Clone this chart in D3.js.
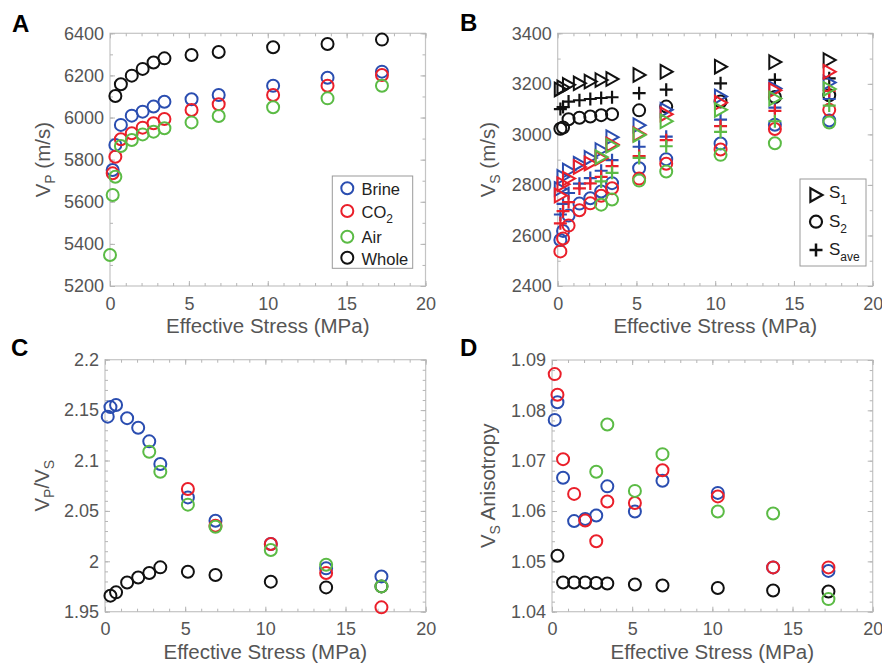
<!DOCTYPE html>
<html>
<head>
<meta charset="utf-8">
<script src="https://cdn.jsdelivr.net/npm/d3@7"></script>
<style>
  html, body { margin: 0; padding: 0; background: #fff; }
  svg { display: block; font-family: "Liberation Sans", Arial, Helvetica, sans-serif; }
</style>
</head>
<body>
<svg id="chart" width="882" height="669"></svg>
<script>
// ---- Effective stress (MPa) of each measurement step ----
const stressBrine = [0.17, 0.34, 0.69, 1.38, 2.07, 2.76, 3.45, 5.17, 6.89, 10.34, 13.79, 17.24];
const stressCO2 = [0.17, 0.34, 0.69, 1.38, 2.07, 2.76, 3.45, 5.17, 6.89, 10.34, 13.79, 17.24];
const stressAirVp = [0, 0.17, 0.34, 0.69, 1.38, 2.07, 2.76, 3.45, 5.17, 6.89, 10.34, 13.79, 17.24];
const stressAir = [2.76, 3.45, 5.17, 6.89, 10.34, 13.79, 17.24];
const stressCO2Ratio = [5.17, 6.89, 10.34, 13.79, 17.24];
const stressWhole = [0.34, 0.69, 1.38, 2.07, 2.76, 3.45, 5.17, 6.89, 10.34, 13.79, 17.24];
const stressWholeVs = [0.17, 0.34, 0.69, 1.38, 2.07, 2.76, 3.45, 5.17, 6.89, 10.34, 13.79, 17.24];

// ---- A: P-wave velocity (m/s) ----
const vpBrine = [5751, 5870, 5965, 6009, 6028, 6052, 6075, 6087, 6107, 6151, 6189, 6218];
const vpCO2 = [5735, 5814, 5897, 5925, 5952, 5973, 5993, 6036, 6063, 6107, 6151, 6202];
const vpAir = [5347, 5632, 5719, 5865, 5893, 5920, 5933, 5949, 5977, 6007, 6049, 6091, 6151];
const vpWhole = [6102, 6158, 6199, 6231, 6261, 6281, 6297, 6311, 6334, 6349, 6370];

// ---- B: S-wave velocities (m/s): fast S1, slow S2 and their average ----
const s1Brine = [2784, 2832, 2857, 2884, 2907, 2938, 2989, 3036, 3097, 3150, 3182, 3205];
const s2Brine = [2582, 2618, 2679, 2726, 2747, 2774, 2807, 2866, 2902, 2964, 3038, 3055];
const saveBrine = [2683, 2725, 2768, 2805, 2827, 2856, 2898, 2951, 2991, 3058, 3106, 3140];
const s1CO2 = [2758, 2803, 2825, 2871, 2885, 2906, 2960, 3001, 3080, 3125, 3175, 3248];
const s2CO2 = [2537, 2588, 2639, 2700, 2727, 2757, 2787, 2825, 2884, 2940, 3021, 3097];
const saveCO2 = [2648, 2696, 2732, 2786, 2806, 2832, 2874, 2914, 2977, 3033, 3093, 3172];
const s1Air = [2910, 2955, 2998, 3052, 3097, 3142, 3180];
const s2Air = [2722, 2742, 2817, 2853, 2919, 2965, 3047];
const saveAir = [2814, 2848, 2907, 2953, 3010, 3052, 3114];
const s1Whole = [3178, 3186, 3196, 3202, 3209, 3215, 3219, 3235, 3248, 3268, 3286, 3294];
const s2Whole = [3022, 3027, 3060, 3066, 3071, 3076, 3080, 3095, 3110, 3130, 3148, 3155];
const saveWhole = [3100, 3108, 3130, 3135, 3140, 3144, 3147, 3163, 3177, 3202, 3216, 3222];

// ---- C: Vp/Vs ratio ----
const ratioBrine = [2.1435, 2.153, 2.155, 2.142, 2.1325, 2.119, 2.0965, 2.0634, 2.0403, 2.0171, 1.993, 1.985];
const ratioCO2 = [2.0717, 2.0353, 2.0171, 1.9884, 1.9543];
const ratioAir = [2.1087, 2.0889, 2.0562, 2.0343, 2.0112, 1.9966, 1.9751];
const ratioWhole = [1.9659, 1.9692, 1.979, 1.984, 1.9884, 1.994, 1.9897, 1.9864, 1.9798, 1.9741, 1.9751];

// ---- D: shear-wave anisotropy (S1/S2) ----
const anisoBrine = [1.0781, 1.0816, 1.0666, 1.058, 1.0584, 1.0591, 1.0649, 1.0599, 1.066, 1.0636, 1.0488, 1.0481];
const anisoCO2 = [1.0872, 1.0831, 1.0703, 1.0634, 1.0581, 1.054, 1.0619, 1.0616, 1.0681, 1.0629, 1.0488, 1.0488];
const anisoAir = [1.0678, 1.0772, 1.064, 1.0713, 1.0599, 1.0595, 1.0425];
const anisoWhole = [1.0511, 1.0458, 1.0458, 1.0458, 1.0457, 1.0456, 1.0454, 1.0452, 1.0447, 1.0442, 1.044];

// ---- Axis ticks and legend labels ----
const xTicks = [0, 5, 10, 15, 20];
const vpTicks = [5200, 5400, 5600, 5800, 6000, 6200, 6400];
const vsTicks = [2400, 2600, 2800, 3000, 3200, 3400];
const ratioTicks = [1.95, 2, 2.05, 2.1, 2.15, 2.2];
const anisoTicks = [1.04, 1.05, 1.06, 1.07, 1.08, 1.09];
const fluidLabels = ["Brine", "CO2", "Air", "Whole"];
const waveLabels = ["S1", "S2", "Save"];

const COLORS = { brine: "#2a4db0", co2: "#ea1f2a", air: "#5bbb45", whole: "#111111" };
const svg = d3.select("#chart");

const SHAPES = {
  circle: sel => sel.append("circle").attr("r", 6),
  triangle: sel => sel.append("path").attr("d", "M-5.6,-6.8L6.5,0L-5.6,6.8Z"),
  plus: sel => sel.append("path").attr("d", "M-6.5,0H6.5M0,-6.5V6.5")
};

function makePanel(cfg) {
  const g = svg.append("g");
  const x = d3.scaleLinear().domain([0, 20]).range([cfg.left, cfg.right]);
  const y = d3.scaleLinear().domain(cfg.yDomain).range([cfg.bottom, cfg.top]);

  g.append("rect")
    .attr("x", cfg.left).attr("y", cfg.top)
    .attr("width", cfg.right - cfg.left).attr("height", cfg.bottom - cfg.top)
    .attr("fill", "#fff").attr("stroke", "#c4c4c4").attr("stroke-width", 1.2);

  const xMinor = d3.range(0, 20.001, 1);
  const yMinor = d3.range(cfg.yDomain[0], cfg.yDomain[1] + cfg.minorStep / 2, cfg.minorStep);

  const tickStyle = sel => {
    sel.select(".domain").remove();
    sel.selectAll("line").attr("stroke", "#b5b5b5").attr("stroke-width", 1);
    sel.selectAll("text").attr("fill", "#555").attr("font-size", 18)
      .attr("font-family", "\"Liberation Sans\", Arial, sans-serif");
  };

  // minor ticks on all four sides
  g.append("g").attr("transform", `translate(0,${cfg.bottom})`)
    .call(d3.axisBottom(x).tickValues(xMinor).tickSize(-3).tickFormat("")).call(tickStyle);
  g.append("g").attr("transform", `translate(0,${cfg.top})`)
    .call(d3.axisTop(x).tickValues(xMinor).tickSize(-3).tickFormat("")).call(tickStyle);
  g.append("g").attr("transform", `translate(${cfg.left},0)`)
    .call(d3.axisLeft(y).tickValues(yMinor).tickSize(-3).tickFormat("")).call(tickStyle);
  g.append("g").attr("transform", `translate(${cfg.right},0)`)
    .call(d3.axisRight(y).tickValues(yMinor).tickSize(-3).tickFormat("")).call(tickStyle);

  // major ticks with labels
  g.append("g").attr("transform", `translate(0,${cfg.bottom})`)
    .call(d3.axisBottom(x).tickValues(xTicks).tickSize(-5).tickPadding(11).tickFormat(d3.format("d")))
    .call(tickStyle);
  g.append("g").attr("transform", `translate(${cfg.left},0)`)
    .call(d3.axisLeft(y).tickValues(cfg.yTicks).tickSize(-5).tickPadding(6).tickFormat(cfg.fmt))
    .call(tickStyle);
  g.append("g").attr("transform", `translate(0,${cfg.top})`)
    .call(d3.axisTop(x).tickValues(xTicks).tickSize(-5).tickFormat("")).call(tickStyle);
  g.append("g").attr("transform", `translate(${cfg.right},0)`)
    .call(d3.axisRight(y).tickValues(cfg.yTicks).tickSize(-5).tickFormat("")).call(tickStyle);

  // x-axis title
  g.append("text")
    .attr("x", (cfg.left + cfg.right) / 2).attr("y", cfg.bottom + 47)
    .attr("text-anchor", "middle").attr("font-size", 20.5).attr("fill", "#555")
    .text("Effective Stress (MPa)");

  // y-axis title with subscripts
  const yt = g.append("text")
    .attr("transform", `translate(${cfg.yLabelX},${(cfg.top + cfg.bottom) / 2}) rotate(-90)`)
    .attr("text-anchor", "middle").attr("font-size", 20.5).attr("fill", "#555");
  cfg.yLabel.forEach(part => {
    const t = yt.append("tspan").text(part.t);
    if (part.sub) t.attr("font-size", 14).attr("dy", 5);
    if (part.up) t.attr("dy", -5);
  });

  // panel letter
  g.append("text").attr("x", cfg.letterX).attr("y", cfg.letterY)
    .attr("font-size", 24).attr("font-weight", "bold").attr("fill", "#000")
    .attr("font-family", "Arial, \"Liberation Sans\", sans-serif")
    .text(cfg.letter);

  const marks = g.append("g");
  function plot(xs, ys, color, shape) {
    const pts = marks.append("g");
    xs.forEach((s, i) => {
      const m = pts.append("g").attr("transform", `translate(${x(s)},${y(ys[i])})`);
      SHAPES[shape](m).attr("fill", "none").attr("stroke", color)
        .attr("stroke-width", shape === "plus" ? 2.2 : 2);
    });
  }
  return { g, x, y, plot };
}

// ---------- A ----------
const A = makePanel({
  left: 110, right: 425.5, top: 33.3, bottom: 286,
  yDomain: [5200, 6400], yTicks: vpTicks, minorStep: 100, fmt: d3.format("d"),
  yLabelX: 50, yLabel: [{ t: "V" }, { t: "P", sub: true }, { t: " (m/s)", up: true }],
  letter: "A", letterX: 12, letterY: 32
});
A.plot(stressWhole, vpWhole, COLORS.whole, "circle");
A.plot(stressBrine, vpBrine, COLORS.brine, "circle");
A.plot(stressCO2, vpCO2, COLORS.co2, "circle");
A.plot(stressAirVp, vpAir, COLORS.air, "circle");

// legend A
{
  const lg = A.g.append("g");
  lg.append("rect").attr("x", 332.3).attr("y", 176).attr("width", 80.4).attr("height", 92.3)
    .attr("fill", "#fff").attr("stroke", "#9a9a9a").attr("stroke-width", 1);
  const cols = [COLORS.brine, COLORS.co2, COLORS.air, COLORS.whole];
  const cy = [188.3, 211, 236.7, 257.7];
  const base = [195, 218, 243, 264.5];
  fluidLabels.forEach((lab, i) => {
    lg.append("circle").attr("cx", 347.3).attr("cy", cy[i]).attr("r", 6)
      .attr("fill", "none").attr("stroke", cols[i]).attr("stroke-width", 2);
    const t = lg.append("text").attr("x", 361.5).attr("y", base[i])
      .attr("font-size", 16.5).attr("fill", "#222");
    if (lab === "CO2") {
      t.append("tspan").text("CO");
      t.append("tspan").text("2").attr("font-size", 12).attr("dy", 5);
    } else {
      t.text(lab);
    }
  });
}

// ---------- B ----------
const B = makePanel({
  left: 557.7, right: 872.7, top: 33.3, bottom: 286,
  yDomain: [2400, 3400], yTicks: vsTicks, minorStep: 100, fmt: d3.format("d"),
  yLabelX: 495, yLabel: [{ t: "V" }, { t: "S", sub: true }, { t: " (m/s)", up: true }],
  letter: "B", letterX: 460, letterY: 31
});
B.plot(stressWholeVs, s1Whole, COLORS.whole, "triangle");
B.plot(stressWholeVs, s2Whole, COLORS.whole, "circle");
B.plot(stressWholeVs, saveWhole, COLORS.whole, "plus");
B.plot(stressBrine, s1Brine, COLORS.brine, "triangle");
B.plot(stressBrine, s2Brine, COLORS.brine, "circle");
B.plot(stressBrine, saveBrine, COLORS.brine, "plus");
B.plot(stressCO2, s1CO2, COLORS.co2, "triangle");
B.plot(stressCO2, s2CO2, COLORS.co2, "circle");
B.plot(stressCO2, saveCO2, COLORS.co2, "plus");
B.plot(stressAir, s1Air, COLORS.air, "triangle");
B.plot(stressAir, s2Air, COLORS.air, "circle");
B.plot(stressAir, saveAir, COLORS.air, "plus");

// legend B
{
  const lg = B.g.append("g");
  lg.append("rect").attr("x", 800).attr("y", 179).attr("width", 66).attr("height", 87)
    .attr("fill", "#fff").attr("stroke", "#9a9a9a").attr("stroke-width", 1);
  const shapes = ["triangle", "circle", "plus"];
  const cy = [195, 221.7, 250];
  const base = [198, 227, 255];
  waveLabels.forEach((lab, i) => {
    const m = lg.append("g").attr("transform", `translate(816,${cy[i]})`);
    SHAPES[shapes[i]](m).attr("fill", "none").attr("stroke", "#111")
      .attr("stroke-width", shapes[i] === "plus" ? 2.5 : 2.2);
    const t = lg.append("text").attr("x", 829).attr("y", base[i])
      .attr("font-size", 17).attr("fill", "#222");
    t.append("tspan").text("S");
    t.append("tspan").text(lab.slice(1)).attr("font-size", 12).attr("dy", 6);
  });
}

// ---------- C ----------
const C = makePanel({
  left: 105, right: 425.7, top: 359.7, bottom: 611.7,
  yDomain: [1.95, 2.2], yTicks: ratioTicks, minorStep: 0.01, fmt: d => String(+d.toFixed(2)),
  yLabelX: 49, yLabel: [{ t: "V" }, { t: "P", sub: true }, { t: "/V", up: true }, { t: "S", sub: true }],
  letter: "C", letterX: 11, letterY: 356
});
C.plot(stressWhole, ratioWhole, COLORS.whole, "circle");
C.plot(stressBrine, ratioBrine, COLORS.brine, "circle");
C.plot(stressCO2Ratio, ratioCO2, COLORS.co2, "circle");
C.plot(stressAir, ratioAir, COLORS.air, "circle");

// ---------- D ----------
const D = makePanel({
  left: 552, right: 872.7, top: 360, bottom: 611.7,
  yDomain: [1.04, 1.09], yTicks: anisoTicks, minorStep: 0.002, fmt: d3.format(".2f"),
  yLabelX: 495, yLabel: [{ t: "V" }, { t: "S", sub: true }, { t: " Anisotropy", up: true }],
  letter: "D", letterX: 460, letterY: 356
});
D.plot(stressWhole, anisoWhole, COLORS.whole, "circle");
D.plot(stressBrine, anisoBrine, COLORS.brine, "circle");
D.plot(stressCO2, anisoCO2, COLORS.co2, "circle");
D.plot(stressAir, anisoAir, COLORS.air, "circle");
</script>
</body>
</html>
